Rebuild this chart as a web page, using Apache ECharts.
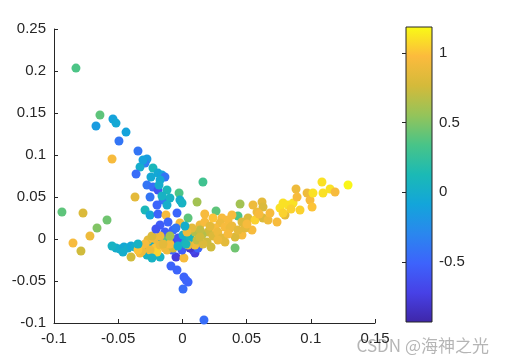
<!DOCTYPE html>
<html>
<head>
<meta charset="utf-8">
<script src="https://cdn.jsdelivr.net/npm/echarts@6/dist/echarts.min.js"></script>
<style>html,body{margin:0;padding:0;background:#fff}#c{width:505px;height:363px}</style>
</head>
<body>
<div id="c"></div>
<script>
const xs = [
-0.0829,-0.0642,-0.0673,-0.0541,-0.0517,-0.0439,-0.0494,-0.0548,-0.0346,-0.0276,
-0.0291,-0.0330,-0.0361,-0.0229,-0.0190,-0.0159,-0.0136,-0.0245,-0.0174,-0.0276,
-0.0229,-0.0190,-0.0120,-0.0252,-0.0151,-0.0097,-0.0026,-0.0019,-0.0003,-0.0369,
-0.0198,-0.0120,0.0114,-0.0291,0.0160,-0.0182,-0.0307,-0.0252,-0.0190,-0.0128,
-0.0042,-0.0019,0.0044,-0.0174,-0.0073,-0.0587,-0.0938,-0.0774,-0.0665,-0.0720,
-0.0852,-0.0790,-0.0517,-0.0486,-0.0455,-0.0424,-0.0400,-0.0369,-0.0330,-0.0299,
-0.0268,-0.0463,-0.0276,-0.0174,-0.0400,-0.0330,-0.0315,-0.0237,-0.0268,-0.0229,
-0.0198,-0.0159,-0.0112,-0.0058,-0.0042,0.0005,0.0059,0.0098,0.0083,-0.0050,
0.0012,-0.0081,-0.0213,-0.0136,-0.0198,-0.0120,-0.0073,-0.0034,-0.0003,0.0059,
0.0122,0.0005,0.0059,0.0098,-0.0136,-0.0174,-0.0089,-0.0042,0.0012,0.0044,
0.0005,0.0028,0.0168,0.0262,0.0449,0.0433,0.0550,0.0620,0.0628,0.0511,
0.0566,0.0628,0.0667,0.0737,0.0542,0.0410,0.0223,0.0308,0.0355,0.0293,
0.0332,0.0371,0.0254,0.0464,0.0464,0.0410,0.0199,0.0153,0.0098,0.0192,
0.0137,0.0174,0.0215,0.0137,0.0075,0.0036,0.0238,0.0276,0.0308,0.0355,
0.0238,0.0174,0.0386,0.0114,0.0160,0.0044,-0.0097,-0.0174,-0.0291,-0.0252,
-0.0346,0.0488,0.0581,0.0760,0.0784,0.0823,0.0862,0.0916,0.0799,0.0784,
0.0885,0.0893,0.0971,0.0994,0.1010,0.1017,0.1087,0.1095,0.1150,0.1189,
0.1290,0.0682,0.0846,
-0.0237,-0.0151,-0.0034,0.0028,-0.0097,0.0137,0.0332,0.0276,0.0386,0.0433,
0.0503,0.0597,-0.0206,-0.0112,-0.0050,-0.0548,-0.0346,-0.0237,0.0020,-0.0159
];
const ys = [
0.2035,0.1476,0.1345,0.1428,0.1380,0.1273,0.1166,0.0952,0.1047,0.0952,
0.0904,0.0857,0.0774,0.0845,0.0785,0.0762,0.0738,0.0738,0.0702,0.0643,
0.0619,0.0583,0.0583,0.0500,0.0464,0.0488,0.0547,0.0464,0.0428,0.0500,
0.0405,0.0405,0.0440,0.0345,0.0678,0.0643,0.0940,0.0286,0.0298,0.0286,
0.0309,0.0190,0.0250,0.0167,0.0107,0.0226,0.0321,0.0309,0.0131,0.0036,
-0.0048,-0.0143,-0.0107,-0.0119,-0.0095,-0.0107,-0.0083,-0.0095,-0.0095,-0.0095,
-0.0107,-0.0155,-0.0190,-0.0214,-0.0214,-0.0167,-0.0143,-0.0060,-0.0012,0.0012,
-0.0012,0.0012,-0.0012,-0.0012,-0.0036,-0.0012,-0.0036,-0.0167,-0.0131,-0.0214,
-0.0226,-0.0131,-0.0107,-0.0107,-0.0155,-0.0131,-0.0107,0.0012,-0.0131,-0.0107,
-0.0107,0.0048,0.0012,-0.0071,0.0083,-0.0071,-0.0321,-0.0369,-0.0452,-0.0512,
-0.0595,-0.0488,-0.0964,0.0333,0.0417,0.0274,0.0405,0.0440,0.0381,0.0250,
0.0226,0.0250,0.0226,0.0202,0.0107,-0.0107,-0.0095,0.0250,0.0226,0.0190,
0.0143,0.0131,0.0131,0.0202,0.0048,0.0024,0.0083,0.0048,0.0083,-0.0036,
0.0167,0.0202,0.0155,0.0107,0.0131,0.0083,0.0036,0.0083,0.0012,0.0060,
0.0250,0.0298,0.0286,-0.0012,-0.0060,-0.0071,-0.0060,0.0036,-0.0060,-0.0131,
-0.0131,0.0131,0.0321,0.0369,0.0428,0.0405,0.0428,0.0345,0.0286,0.0309,
0.0595,0.0500,0.0547,0.0464,0.0381,0.0547,0.0678,0.0547,0.0595,0.0559,
0.0643,0.0309,0.0357,
0.0036,-0.0060,-0.0083,-0.0060,0.0036,0.0024,-0.0036,-0.0012,0.0155,0.0107,
0.0179,0.0298,0.0119,0.0202,0.0131,-0.0083,-0.0060,-0.0226,0.0155,0.0512
];
const vs = [
0.35,0.4,-0.15,-0.1,-0.05,-0.1,-0.4,0.95,-0.4,-0.15,
-0.35,0.0,-0.45,0.1,-0.05,-0.1,-0.4,-0.05,-0.05,-0.4,
-0.45,-0.6,0.1,-0.4,-0.4,0.05,0.35,0.0,0.05,0.85,
-0.5,0.0,0.6,0.1,0.3,0.0,-0.1,-0.05,-0.5,0.95,
-0.5,0.95,0.4,-0.55,-0.5,0.45,0.4,0.8,0.5,0.9,
0.95,0.75,0.0,0.0,-0.05,0.0,-0.05,0.0,0.0,-0.05,
0.0,0.0,0.05,0.05,0.75,0.95,0.9,0.0,0.85,0.95,
0.9,0.0,0.4,-0.6,-0.7,0.0,0.4,-0.75,-0.7,-0.75,
0.95,-0.5,1.0,0.95,1.05,0.9,0.75,-0.6,-0.55,-0.8,
-0.5,0.0,0.1,0.9,-0.55,0.9,-0.5,-0.5,-0.5,-0.5,
-0.45,-0.5,-0.45,0.4,0.6,0.35,0.9,0.85,0.8,0.8,
1.05,0.8,0.9,0.95,0.95,0.45,0.75,0.95,0.95,0.9,
0.95,0.9,0.95,0.8,0.95,0.8,0.75,0.65,0.65,0.75,
0.9,0.95,0.85,0.7,0.85,0.9,0.8,0.9,0.85,0.95,
1.0,0.95,0.95,0.7,0.8,0.85,0.95,0.9,0.95,0.9,
1.0,0.85,0.9,1.1,1.1,1.1,1.1,1.05,0.85,1.05,
0.9,0.95,0.9,0.95,1.0,1.1,1.1,1.1,1.1,0.95,
1.17,0.95,1.05,
0.8,0.85,0.0,0.1,0.6,0.75,0.85,0.9,0.9,0.85,
0.95,0.95,-0.6,-0.5,-0.4,0.05,0.05,0.05,0.0,0.05
];
const xTicks = { min: -0.1, max: 0.15, step: 0.05 };
const yTicks = { min: -0.1, max: 0.25, step: 0.05 };
const cRange = [-0.932, 1.187];
const cTicks = [-0.5, 0, 0.5, 1];
const parula = ['#3E26A8','#4741E6','#3D63FC','#2A87EE','#13A5DA','#1BBAB5','#48C488','#94C45A','#D4BA3A','#FCBB3D','#F9FB15'];

const pts = xs.map((x, i) => [x, ys[i], vs[i]]);
const font = 'Liberation Sans, Arial, sans-serif';
const txt = '#262626';
const chart = echarts.init(document.getElementById('c'), null, { renderer: 'canvas' });
const stops = parula.map((c, i) => ({ offset: i / (parula.length - 1), color: c }));

chart.setOption({
  animation: false,
  backgroundColor: '#fff',
  grid: [
    { left: 54, right: 130, top: 29, bottom: 40 },
    { left: 406, width: 26, top: 27, bottom: 41 }
  ],
  xAxis: [
    { type: 'value', gridIndex: 0, min: xTicks.min, max: xTicks.max, interval: xTicks.step,
      splitLine: { show: false },
      axisLine: { onZero: false, lineStyle: { color: txt, width: 1 } },
      axisTick: { inside: true, length: 4, lineStyle: { color: txt } },
      axisLabel: { color: txt, fontSize: 15, fontFamily: font, margin: 8 } },
    { type: 'value', gridIndex: 1, min: 0, max: 1, show: false }
  ],
  yAxis: [
    { type: 'value', gridIndex: 0, min: yTicks.min, max: yTicks.max, interval: yTicks.step,
      splitLine: { show: false },
      axisLine: { show: true, onZero: false, lineStyle: { color: txt, width: 1 } },
      axisTick: { show: true, inside: true, length: 4, lineStyle: { color: txt } },
      axisLabel: { color: txt, fontSize: 15, fontFamily: font, margin: 8 } },
    { type: 'value', gridIndex: 1, min: cRange[0], max: cRange[1], position: 'right',
      splitLine: { show: false },
      axisLine: { show: false },
      axisTick: { show: true, inside: true, length: 4, customValues: cTicks, lineStyle: { color: txt } },
      axisLabel: { color: txt, fontSize: 15, fontFamily: font, margin: 7, customValues: cTicks } }
  ],
  visualMap: {
    type: 'continuous', show: false, min: cRange[0], max: cRange[1], dimension: 2, seriesIndex: 0,
    inRange: { color: parula }
  },
  graphic: [{
    type: 'text', right: 16, bottom: 9, silent: true,
    style: { text: 'CSDN @海神之光', fill: 'rgba(120,120,120,0.55)', font: '17px "Noto Sans CJK SC", sans-serif' }
  }],
  series: [
    { type: 'scatter', xAxisIndex: 0, yAxisIndex: 0, data: pts, symbolSize: 9,
      itemStyle: { opacity: 1 } },
    { type: 'custom', xAxisIndex: 1, yAxisIndex: 1, silent: true, z: 1,
      data: [[0, cRange[0], 1, cRange[1]]],
      renderItem: function (params, api) {
        const p0 = api.coord([api.value(0), api.value(1)]);
        const p1 = api.coord([api.value(2), api.value(3)]);
        return {
          type: 'rect',
          shape: { x: p0[0], y: p1[1], width: p1[0] - p0[0], height: p0[1] - p1[1] },
          style: { fill: new echarts.graphic.LinearGradient(0, 1, 0, 0, stops), stroke: txt, lineWidth: 1 }
        };
      } }
  ]
});
</script>
</body>
</html>
